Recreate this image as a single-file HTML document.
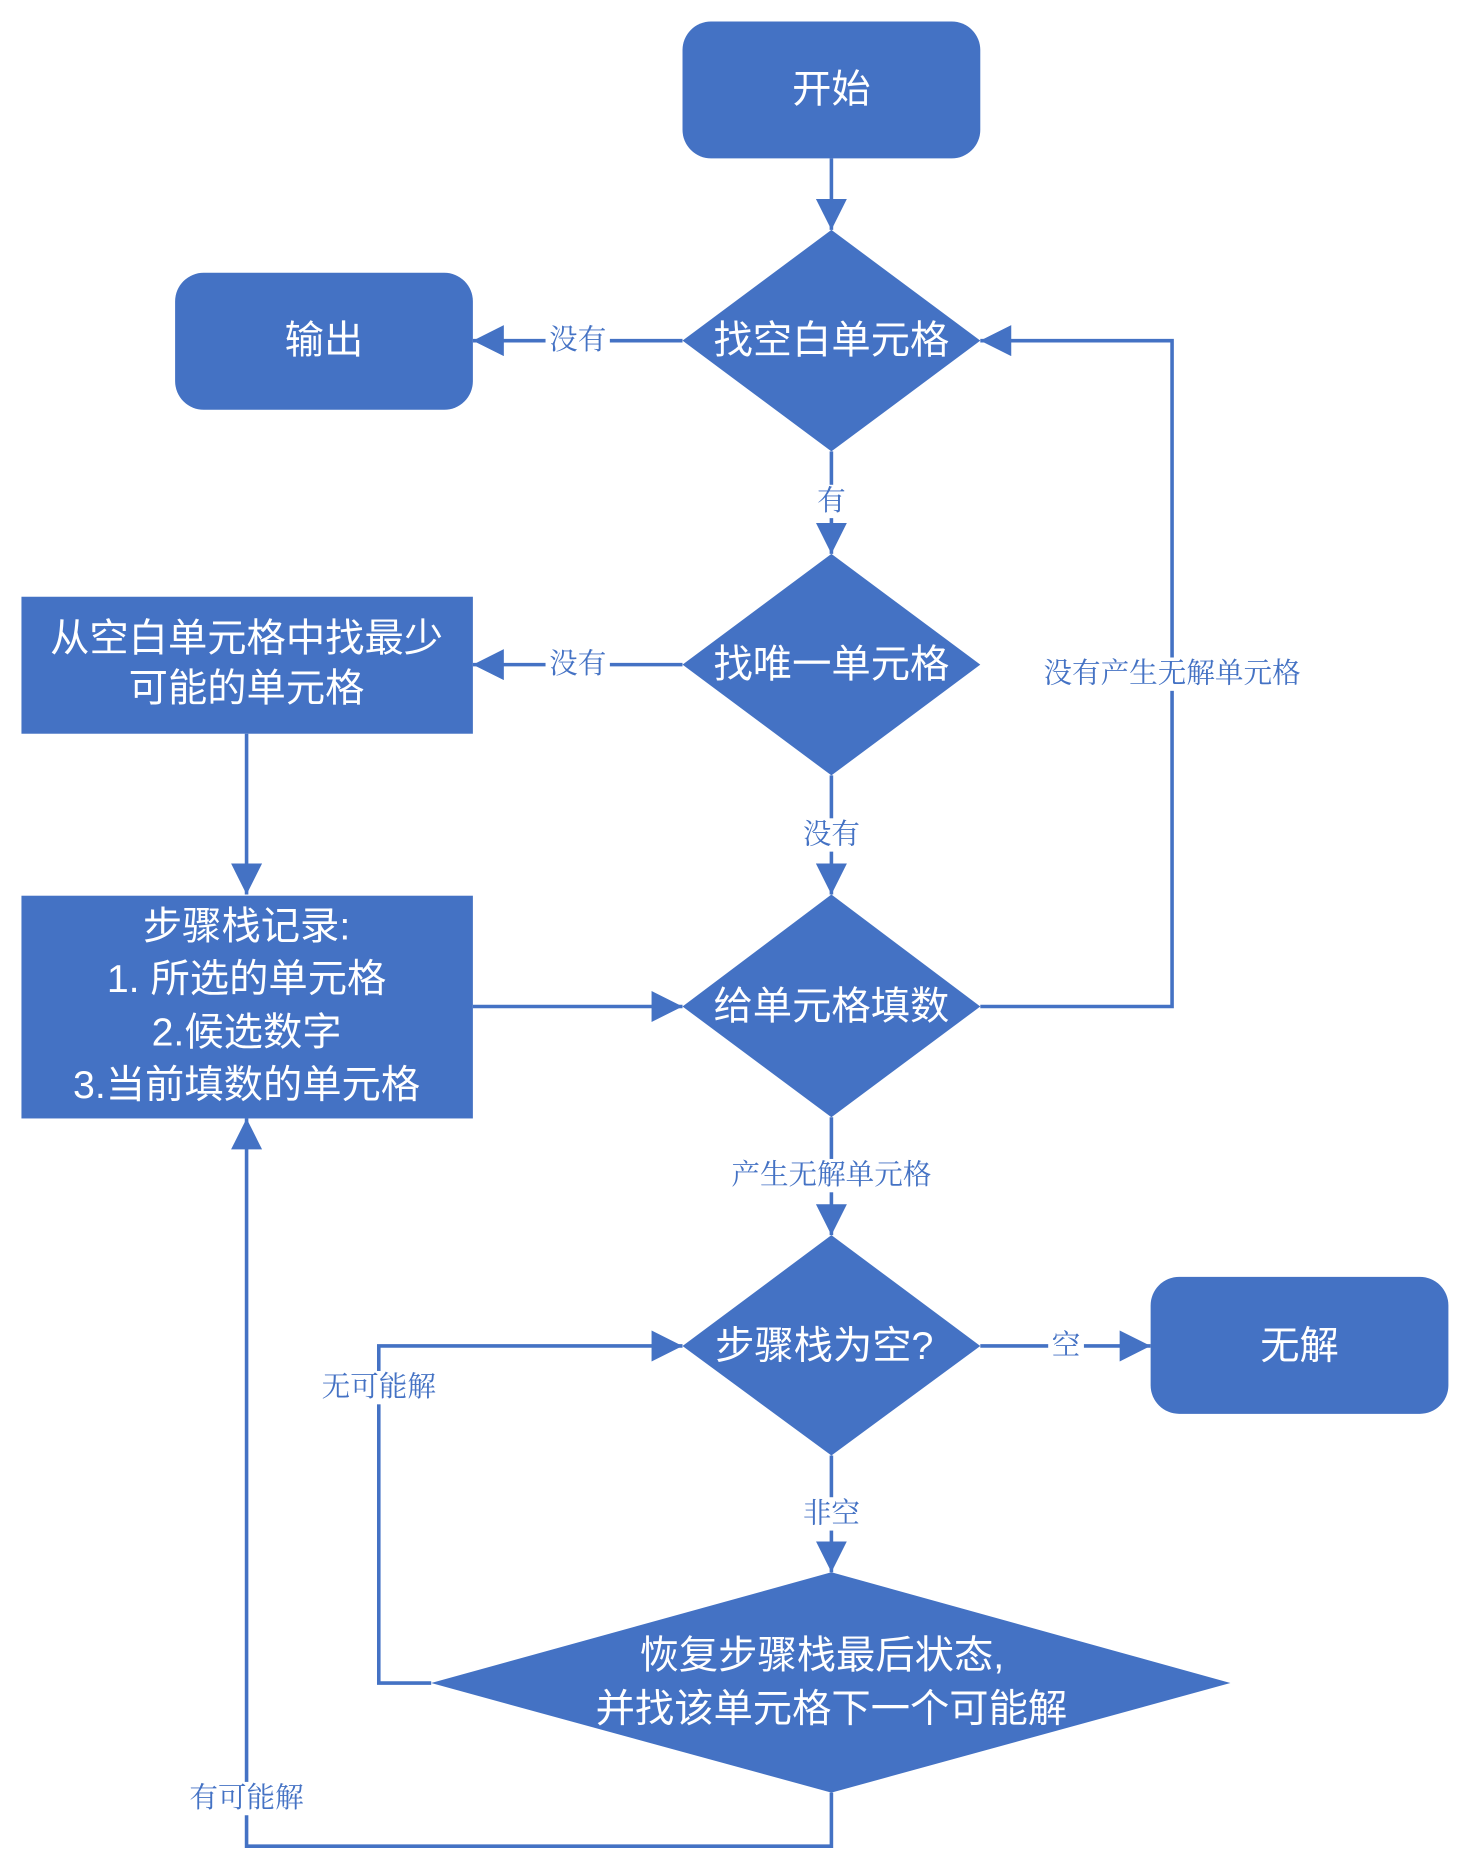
<!DOCTYPE html>
<html><head><meta charset="utf-8"><style>
html,body{margin:0;padding:0;background:#fff;}
svg{display:block;}
.n{font-family:"Liberation Sans","Noto Sans CJK SC",sans-serif;fill:#fff;font-size:33px;text-anchor:middle;dominant-baseline:central;}
.l{font-family:"Liberation Serif","Noto Serif CJK SC",serif;fill:#4472C4;font-size:24px;text-anchor:middle;dominant-baseline:central;}
</style></head><body>
<svg width="1477" height="1876" viewBox="0 0 1240 1575" xmlns="http://www.w3.org/2000/svg">
<defs>
<marker id="b" viewBox="0 0 10 10" refX="10" refY="5" markerWidth="26" markerHeight="26" orient="auto" markerUnits="userSpaceOnUse"><path d="M0,0 L10,5 L0,10 z" fill="#4472C4"/></marker></defs>
<g stroke="#4472C4" stroke-width="3" fill="none">
<path d="M698,133 V193" marker-end="url(#b)"/>
<path d="M573,286 H397" marker-end="url(#b)"/>
<path d="M698,379 V465" marker-end="url(#b)"/>
<path d="M573,558 H397" marker-end="url(#b)"/>
<path d="M698,651 V751" marker-end="url(#b)"/>
<path d="M207,616 V751" marker-end="url(#b)"/>
<path d="M397,845 H573" marker-end="url(#b)"/>
<path d="M823,845 H984 V286 H823" marker-end="url(#b)"/>
<path d="M698,938 V1037" marker-end="url(#b)"/>
<path d="M823,1130 H966" marker-end="url(#b)"/>
<path d="M698,1222 V1320" marker-end="url(#b)"/>
<path d="M362,1413 H318 V1130 H573" marker-end="url(#b)"/>
<path d="M698,1505 V1550 H207 V939" marker-end="url(#b)"/>
</g>
<g fill="#4472C4">
<rect x="573" y="18" width="250" height="115" rx="24"/>
<rect x="147" y="229" width="250" height="115" rx="24"/>
<rect x="966" y="1072" width="250" height="115" rx="24"/>
<rect x="18" y="501" width="379" height="115"/>
<rect x="18" y="752" width="379" height="187"/>
<path d="M698,193 L823,286 L698,379 L573,286 z"/>
<path d="M698,465 L823,558 L698,651 L573,558 z"/>
<path d="M698,751 L823,845 L698,938 L573,845 z"/>
<path d="M698,1037 L823,1130 L698,1222 L573,1130 z"/>
<path d="M698,1320 L1033,1413 L698,1505 L362,1413 z"/>
</g>
<g class="n">
<text x="698" y="75">开始</text>
<text x="272" y="286">输出</text>
<text x="1091" y="1130">无解</text>
<text x="698" y="286">找空白单元格</text>
<text x="698" y="558">找唯一单元格</text>
<text x="698" y="845">给单元格填数</text>
<text x="692" y="1130">步骤栈为空?</text>
<text x="690" y="1390">恢复步骤栈最后状态,</text>
<text x="698" y="1435">并找该单元格下一个可能解</text>
<text x="207" y="536">从空白单元格中找最少</text>
<text x="207" y="578">可能的单元格</text>
<text x="207" y="778">步骤栈记录:</text>
<text x="207" y="822">1. 所选的单元格</text>
<text x="207" y="867">2.候选数字</text>
<text x="207" y="911">3.当前填数的单元格</text>
</g>
<g>
<rect x="458" y="272" width="54" height="28" fill="#fff"/>
<rect x="458" y="544" width="54" height="28" fill="#fff"/>
<rect x="684" y="407" width="28" height="28" fill="#fff"/>
<rect x="670" y="687" width="56" height="28" fill="#fff"/>
<rect x="862" y="552" width="244" height="28" fill="#fff"/>
<rect x="604" y="973" width="188" height="28" fill="#fff"/>
<rect x="880" y="1116" width="30" height="28" fill="#fff"/>
<rect x="670" y="1257" width="56" height="28" fill="#fff"/>
<rect x="264" y="1151" width="110" height="28" fill="#fff"/>
<rect x="154" y="1496" width="110" height="28" fill="#fff"/>
</g>
<g class="l">
<text x="485" y="286">没有</text>
<text x="485" y="558">没有</text>
<text x="698" y="421">有</text>
<text x="698" y="701">没有</text>
<text x="984" y="566">没有产生无解单元格</text>
<text x="698" y="987">产生无解单元格</text>
<text x="895" y="1130">空</text>
<text x="698" y="1271">非空</text>
<text x="318" y="1165">无可能解</text>
<text x="207" y="1510">有可能解</text>
</g>
</svg>
</body></html>
